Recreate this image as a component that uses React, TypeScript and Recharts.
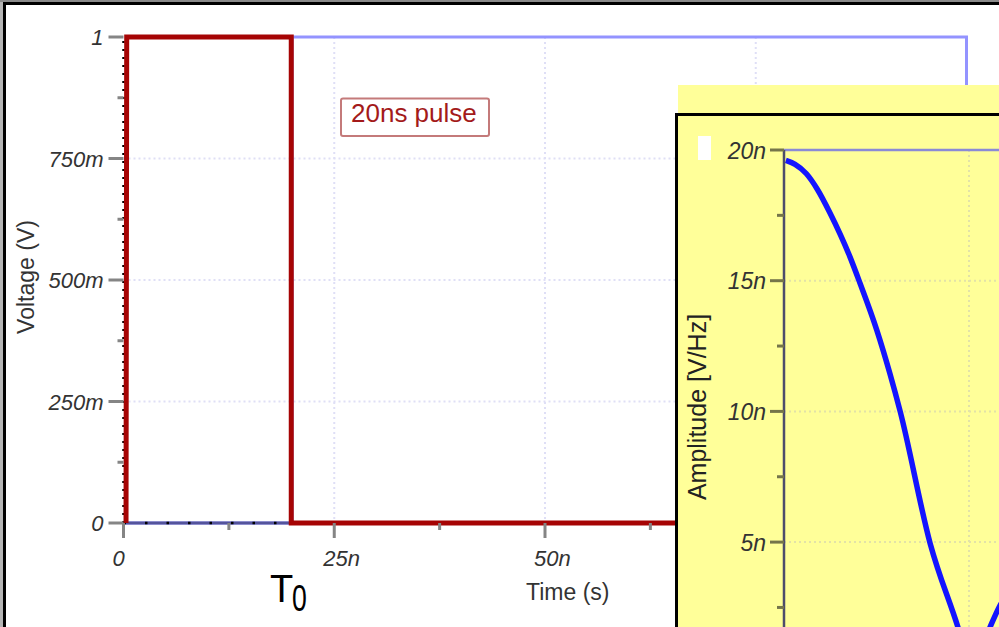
import React from "react";
import { LineChart, Line, XAxis, YAxis, CartesianGrid, ReferenceLine } from "recharts";

// time axis (ns) and voltage axis (V)
const timeTicks = [0, 12.5, 25, 37.5, 50, 62.5, 75, 87.5, 100];
const timeMajor = [0, 25, 50, 75, 100];
const voltTicks = [0, 0.125, 0.25, 0.375, 0.5, 0.625, 0.75, 0.875, 1];
const voltMajor = [0, 0.25, 0.5, 0.75, 1];

// the 20ns pulse (red) and the complementary trace (blue)
const pulseTime = [0.3, 0.38, 19.9, 19.9, 100];
const pulseVolt = [0, 1, 1, 0, 0];
const blueTime = [0, 20, 20, 100, 100];
const blueVolt = [0, 0, 1, 1, 0];
// T0 marker: dotted edge at t=0 and baseline up to 20ns
const markerVTime = [0, 0];
const markerVVolt = [0, 1];
const markerHTime = [0, 20];
const markerHVolt = [0, 0];

// inset spectrum: frequency (MHz) vs amplitude (nV/Hz)
const freqMHz = [0.5, 3.0, 6.0, 9.0, 12.4, 17.8, 20.5, 25.1, 28.6, 31.4, 39.5, 47.0, 50.7, 55.7, 58.1, 62];
const amplitude = [19.6, 19.45, 19.1, 18.5, 17.6, 15.92, 14.92, 13.1, 11.46, 10.0, 4.95, 1.75, 0.05, 1.75, 2.5, 3.3];
const ampTicks = [0, 2.5, 5, 7.5, 10, 12.5, 15, 17.5, 20];
const ampMajor = [5, 10, 15, 20];

const zip = (xs: number[], ys: number[], kx: string, ky: string) =>
  xs.map((x, i) => ({ [kx]: x, [ky]: ys[i] }));

const pulseData = zip(pulseTime, pulseVolt, "t", "v");
const blueData = zip(blueTime, blueVolt, "t", "v");
const markerV = zip(markerVTime, markerVVolt, "t", "v");
const markerH = zip(markerHTime, markerHVolt, "t", "v");
const spectrum = zip(freqMHz, amplitude, "f", "a");

const FONT = '"Liberation Sans", Arial, Helvetica, sans-serif';

const fmtVolt = (v: number) => (v === 0 ? "0" : v === 1 ? "1" : `${Math.round(v * 1000)}m`);
const fmtTime = (t: number) => (t === 0 ? "0" : `${t}n`);

const VoltTick = ({ x, y, payload }: any) => {
  const major = voltMajor.includes(payload.value);
  return (
    <g>
      <line x1={x - (major ? 15 : 6)} x2={x} y1={y} y2={y} stroke="#858585" strokeWidth={3} />
      {major && (
        <text x={x - 20} y={y + 8} textAnchor="end" fontStyle="italic" fontSize={22} fill="#333" fontFamily={FONT}>
          {fmtVolt(payload.value)}
        </text>
      )}
    </g>
  );
};

const TimeTick = ({ x, y, payload }: any) => {
  const major = timeMajor.includes(payload.value);
  return (
    <g>
      <line x1={x} x2={x} y1={y} y2={y + (major ? 15 : 7)} stroke="#858585" strokeWidth={3} />
      {major && (
        <text x={x - 11} y={y + 43} textAnchor="start" fontStyle="italic" fontSize={22} fill="#333" fontFamily={FONT}>
          {fmtTime(payload.value)}
        </text>
      )}
    </g>
  );
};

const AmpTick = ({ x, y, payload }: any) => {
  const major = ampMajor.includes(payload.value);
  return (
    <g>
      <line x1={x - (major ? 14 : 7)} x2={x} y1={y} y2={y} stroke="#75754a" strokeWidth={3} />
      {major && (
        <text x={x - 18} y={y + 8.5} textAnchor="end" fontStyle="italic" fontSize={23} fill="#333" fontFamily={FONT}>
          {`${payload.value}n`}
        </text>
      )}
    </g>
  );
};

export default function App() {
  return (
    <div
      style={{
        position: "fixed",
        left: 0,
        top: 0,
        width: 999,
        height: 627,
        overflow: "hidden",
        background: "#fff",
        fontFamily: FONT,
      }}
    >
      {/* screenshot frame */}
      <div style={{ position: "absolute", left: 0, top: 0, width: 3, height: 627, background: "#b5b5b5" }} />
      <div style={{ position: "absolute", left: 0, top: 0, width: 999, height: 2, background: "#8a8a8a" }} />
      <div style={{ position: "absolute", left: 3, top: 2, width: 3, height: 625, background: "#000" }} />
      <div style={{ position: "absolute", left: 3, top: 2, width: 996, height: 3, background: "#000" }} />

      <div style={{ position: "absolute", left: 0, top: 0 }}>
        <LineChart width={999} height={627} margin={{ top: 37, right: 32.5, bottom: 0, left: 0 }}>
          <CartesianGrid
            stroke="#dfdff6"
            strokeDasharray="2 3"
            strokeWidth={2}
            horizontalValues={[0.25, 0.5, 0.75]}
            verticalValues={[25, 50, 75]}
          />
          <XAxis
            type="number"
            dataKey="t"
            domain={[0, 100]}
            ticks={timeTicks}
            interval={0}
            height={104}
            tickSize={0}
            tickMargin={0}
            tickLine={false}
            axisLine={false}
            tick={(p: any) => <TimeTick {...p} />}
          />
          <YAxis
            type="number"
            dataKey="v"
            domain={[0, 1]}
            ticks={voltTicks}
            interval={0}
            width={123.5}
            tickSize={0}
            tickMargin={0}
            tickLine={false}
            axisLine={false}
            tick={(p: any) => <VoltTick {...p} />}
          />
          <Line data={blueData} dataKey="v" type="linear" stroke="#9393ff" strokeWidth={3} dot={false} isAnimationActive={false} />
          <Line data={markerH} dataKey="v" type="linear" stroke="#54549c" strokeWidth={3} dot={false} isAnimationActive={false} />
          <Line data={markerH} dataKey="v" type="linear" stroke="#000" strokeWidth={2.5} strokeDasharray="2.5 19" dot={false} isAnimationActive={false} />
          <Line data={markerV} dataKey="v" type="linear" stroke="#000" strokeWidth={2.5} strokeDasharray="2 6" dot={false} isAnimationActive={false} />
          <Line data={pulseData} dataKey="v" type="linear" stroke="#a60404" strokeWidth={5} dot={false} isAnimationActive={false} />
        </LineChart>
      </div>

      <svg width={999} height={627} style={{ position: "absolute", left: 0, top: 0 }}>
        <text transform="translate(34,277) rotate(-90)" textAnchor="middle" fontSize={23} fill="#333" fontFamily={FONT}>
          Voltage (V)
        </text>
        <text x={526} y={600} fontSize={23} fill="#333" fontFamily={FONT}>
          Time (s)
        </text>
        <text x={270} y={602} fontSize={38} fill="#000" fontFamily={FONT}>
          T
        </text>
        <text transform="translate(292,611) scale(0.72,1)" fontSize={37} fill="#000" fontFamily={FONT}>
          0
        </text>
        <rect x={341} y={98.5} width={148} height={37.5} rx={2} fill="#fff" stroke="#c47a7a" strokeWidth={2} />
        <text x={351} y={122} fontSize={26} fill="#a31a1a" fontFamily={FONT}>
          20ns pulse
        </text>
      </svg>

      {/* inset: spectrum of the pulse */}
      <div style={{ position: "absolute", left: 678, top: 85, right: 0, bottom: 0, background: "#ffff99" }} />
      <div
        style={{
          position: "absolute",
          left: 675,
          top: 113,
          right: 0,
          bottom: 0,
          borderLeft: "3px solid #000",
          borderTop: "3px solid #000",
          background: "#ffff99",
        }}
      />
      <div style={{ position: "absolute", left: 698, top: 136, width: 13, height: 24, background: "#fff" }} />
      <div style={{ position: "absolute", left: 678, top: 116 }}>
        <LineChart width={500} height={600} margin={{ top: 34, right: 24, bottom: 43.2, left: 0 }}>
          <CartesianGrid
            stroke="#e2e2a8"
            strokeDasharray="2 3"
            strokeWidth={2}
            horizontalValues={[5, 10, 15]}
            verticalValues={[50]}
          />
          <XAxis type="number" dataKey="f" domain={[0, 100]} hide />
          <YAxis
            type="number"
            dataKey="a"
            domain={[0, 20]}
            ticks={ampTicks}
            interval={0}
            width={106}
            tickSize={0}
            tickMargin={0}
            tickLine={false}
            axisLine={{ stroke: "#4d4d6b", strokeWidth: 2.5 }}
            tick={(p: any) => <AmpTick {...p} />}
          />
          <ReferenceLine y={20} stroke="#8b8bd6" strokeWidth={2.5} />
          <Line data={spectrum} dataKey="a" type="monotone" stroke="#1414ff" strokeWidth={5.5} dot={false} isAnimationActive={false} />
        </LineChart>
      </div>
      <svg width={999} height={627} style={{ position: "absolute", left: 0, top: 0, pointerEvents: "none" }}>
        <text transform="translate(706,407) rotate(-90)" textAnchor="middle" fontSize={25} fill="#222" fontFamily={FONT}>
          Amplitude [V/Hz]
        </text>
      </svg>
    </div>
  );
}
